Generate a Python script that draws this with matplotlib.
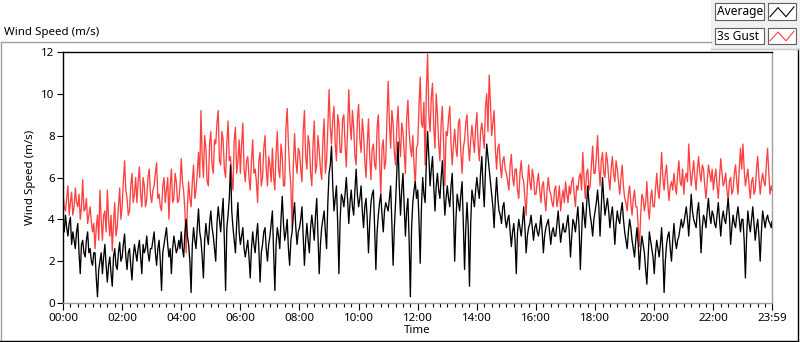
import matplotlib
matplotlib.use("Agg")
import matplotlib.pyplot as plt
from matplotlib.lines import Line2D
from matplotlib.patches import Rectangle
from matplotlib.ticker import FixedLocator, MultipleLocator

plt.rcParams['font.family'] = ['Noto Sans', 'DejaVu Sans']

# ---------------- data ----------------
# 3s gust, samples at hh:00, hh:05, ... (plus 23:59)
gust = [
    5.2, 4.4, 5.6, 4.8, 4.2, 5.5, 4.6, 4.0, 5.9, 4.5, 3.8, 4.6,   # 00h
    3.4, 2.6, 4.2, 5.4, 3.0, 4.4, 5.4, 3.2, 2.5, 4.8, 3.6, 5.5,   # 01h
    4.6, 6.8, 5.0, 4.4, 6.2, 5.2, 4.8, 6.5, 4.6, 5.6, 5.0, 6.4,   # 02h
    4.8, 5.6, 6.7, 5.2, 4.4, 6.0, 5.4, 4.0, 6.4, 5.0, 5.8, 4.9,   # 03h
    6.9, 5.3, 2.4, 5.8, 4.6, 6.6, 5.4, 7.2, 9.2, 6.0, 7.4, 5.6,   # 04h
    8.2, 6.2, 7.6, 9.2, 6.6, 7.8, 6.0, 8.7, 7.0, 5.4, 8.4, 6.8,   # 05h
    6.2, 8.6, 5.8, 7.0, 5.4, 7.8, 6.4, 4.8, 7.2, 6.0, 8.0, 5.6,   # 06h
    6.6, 7.4, 5.4, 8.2, 6.0, 7.0, 5.6, 9.3, 6.4, 3.6, 8.1, 6.2,   # 07h
    7.2, 5.8, 9.2, 6.4, 7.6, 5.6, 8.7, 6.6, 7.3, 5.9, 8.8, 6.8,   # 08h
    10.2, 7.6, 9.4, 6.8, 8.6, 7.2, 9.0, 6.5, 10.2, 7.8, 8.4, 6.6, # 09h
    9.5, 7.2, 8.1, 6.0, 8.8, 5.9, 7.6, 6.4, 9.0, 5.2, 7.8, 6.8,   # 10h
    10.6, 7.4, 8.6, 6.6, 9.4, 7.0, 8.2, 6.2, 9.7, 7.4, 8.0, 5.6,  # 11h
    7.6, 10.8, 8.4, 6.6, 11.9, 8.2, 10.5, 7.4, 9.0, 6.8, 9.4, 5.6, # 12h
    8.0, 9.4, 6.6, 8.3, 7.0, 8.8, 6.2, 7.8, 9.0, 6.8, 8.5, 7.2,   # 13h
    9.1, 6.8, 8.6, 7.4, 10.0, 10.9, 8.0, 9.2, 6.4, 7.6, 6.0, 7.0, # 14h
    6.2, 5.4, 7.1, 5.6, 6.4, 5.0, 6.8, 5.8, 4.2, 6.6, 5.4, 6.0,   # 15h
    5.2, 6.2, 4.8, 5.8, 4.4, 6.0, 5.2, 4.6, 5.6, 5.0, 4.4, 5.4,   # 16h
    5.8, 4.8, 5.2, 6.0, 4.6, 5.4, 6.2, 7.2, 5.0, 6.4, 5.6, 7.5,   # 17h
    6.2, 8.0, 5.6, 7.2, 6.0, 6.8, 5.4, 7.0, 5.8, 6.4, 5.2, 6.6,   # 18h
    5.0, 4.4, 5.6, 4.2, 5.4, 4.6, 2.7, 5.2, 4.4, 5.8, 4.0, 5.4,   # 19h
    4.6, 6.2, 5.0, 7.2, 5.4, 6.6, 4.9, 5.8, 6.2, 5.2, 6.8, 5.6,   # 20h
    5.2, 6.2, 7.6, 5.6, 6.8, 5.4, 7.0, 5.8, 6.4, 5.0, 6.6, 5.8,   # 21h
    5.4, 6.4, 5.0, 6.9, 5.6, 6.2, 4.9, 6.0, 5.4, 6.6, 5.2, 7.4,   # 22h
    7.6, 5.6, 6.4, 5.0, 6.0, 5.4, 7.0, 5.2, 6.2, 5.6, 7.4, 5.2,   # 23h
    5.4,                                                          # 23:59
]

# 3s gust, samples at hh:02.5, hh:07.5, ...
gust_mid = [
    4.6, 5.0, 4.2, 5.3, 4.6, 4.8, 5.2, 4.6, 4.4, 5.0, 4.2, 3.9,   # 00h
    3.8, 3.6, 3.0, 4.0, 4.2, 3.4, 4.0, 4.2, 3.8, 3.2, 4.6, 4.0,   # 01h
    5.8, 5.4, 4.2, 5.6, 4.8, 6.0, 5.8, 5.2, 6.0, 4.6, 6.0, 5.2,   # 02h
    5.4, 6.2, 5.0, 4.6, 5.6, 4.8, 6.0, 5.6, 4.8, 6.2, 4.8, 5.6,   # 03h
    5.8, 4.4, 4.6, 5.0, 5.8, 5.0, 6.2, 6.0, 7.0, 8.0, 5.8, 7.6,   # 04h
    6.6, 7.8, 8.6, 6.8, 8.2, 6.4, 7.6, 6.8, 6.0, 7.8, 6.2, 7.8,   # 05h
    7.6, 6.4, 6.8, 6.0, 6.8, 6.2, 5.8, 6.8, 5.6, 7.4, 6.4, 7.0,   # 06h
    5.8, 6.0, 7.2, 6.4, 7.6, 5.6, 8.4, 7.6, 5.6, 6.6, 6.8, 7.4,   # 07h
    6.4, 8.2, 7.0, 8.0, 6.2, 7.6, 6.2, 8.0, 6.4, 7.8, 6.2, 8.4,   # 08h
    8.4, 8.8, 7.6, 9.0, 7.2, 8.8, 7.6, 8.2, 8.6, 9.2, 7.0, 8.8,   # 09h
    7.8, 8.8, 6.8, 7.6, 7.0, 7.4, 6.6, 8.4, 6.8, 7.4, 6.4, 8.8,   # 10h
    8.6, 9.2, 7.2, 8.4, 7.8, 8.6, 7.2, 8.8, 8.2, 7.0, 6.6, 7.4,   # 11h
    9.4, 8.6, 9.6, 10.2, 9.0, 9.8, 8.4, 10.0, 7.6, 8.6, 7.6, 8.2, # 12h
    8.8, 7.6, 7.6, 7.4, 8.6, 7.2, 7.4, 8.6, 7.6, 7.8, 7.8, 8.4,   # 13h
    7.6, 8.2, 8.0, 9.4, 8.2, 9.6, 8.6, 7.4, 7.4, 6.6, 6.8, 6.4,   # 14h
    5.8, 6.6, 6.0, 6.4, 5.4, 6.2, 6.0, 5.0, 5.6, 5.8, 6.4, 5.2,   # 15h
    5.8, 5.4, 5.6, 5.0, 5.4, 5.4, 4.8, 5.4, 4.6, 5.6, 5.0, 4.8,   # 16h
    5.2, 5.6, 5.8, 5.2, 5.6, 6.0, 5.4, 6.0, 6.2, 5.4, 6.6, 6.2,   # 17h
    7.0, 6.6, 6.8, 6.2, 7.2, 6.0, 6.4, 6.2, 6.8, 5.8, 6.0, 5.6,   # 18h
    4.8, 5.2, 4.8, 5.0, 4.6, 3.6, 4.2, 5.0, 4.8, 4.6, 5.0, 4.6,   # 19h
    5.4, 5.4, 6.0, 6.0, 6.2, 5.6, 5.6, 5.4, 5.6, 6.2, 5.8, 6.4,   # 20h
    6.0, 5.8, 6.4, 6.2, 6.0, 6.4, 6.2, 6.6, 5.6, 5.8, 6.2, 6.4,   # 21h
    6.0, 5.6, 6.0, 6.2, 5.8, 5.4, 5.8, 5.2, 6.2, 5.8, 6.4, 6.4,   # 22h
    6.4, 6.0, 5.6, 5.8, 5.2, 6.4, 6.0, 5.8, 5.8, 6.6, 6.2, 5.6,   # 23h
]

# average, samples at hh:00, hh:05, ... (plus 23:59)
average = [
    3.8, 4.2, 3.2, 4.1, 3.4, 2.6, 3.8, 1.4, 3.0, 2.2, 3.4, 2.6,   # 00h
    1.8, 2.4, 0.3, 2.0, 1.4, 2.8, 1.0, 2.2, 0.8, 2.6, 1.6, 2.9,   # 01h
    2.2, 3.3, 1.6, 2.6, 1.1, 2.8, 2.0, 3.0, 1.4, 2.4, 3.2, 2.0,   # 02h
    2.6, 3.4, 1.8, 3.0, 0.6, 2.8, 3.6, 2.2, 1.4, 3.2, 2.4, 3.0,   # 03h
    3.4, 2.2, 4.0, 2.8, 0.5, 3.6, 2.6, 4.5, 3.0, 1.2, 3.8, 2.8,   # 04h
    4.4, 3.2, 2.0, 4.6, 3.4, 5.0, 0.6, 4.2, 6.6, 3.6, 2.4, 4.8,   # 05h
    2.8, 3.6, 2.2, 3.0, 1.2, 3.4, 2.4, 3.8, 1.0, 2.8, 3.6, 2.0,   # 06h
    3.2, 4.4, 0.6, 3.6, 2.6, 5.1, 3.0, 4.0, 1.8, 3.4, 4.8, 2.8,   # 07h
    3.6, 4.6, 1.8, 3.8, 2.4, 4.2, 3.0, 5.0, 1.4, 3.6, 4.4, 2.6,   # 08h
    6.2, 7.5, 4.4, 5.6, 1.4, 5.2, 4.6, 6.0, 3.8, 5.4, 4.2, 6.4,   # 09h
    4.6, 5.6, 3.6, 5.0, 2.4, 4.8, 5.4, 1.6, 4.2, 5.2, 3.4, 4.8,   # 10h
    4.4, 5.6, 1.8, 4.8, 7.7, 4.2, 6.2, 3.2, 5.0, 0.3, 4.8, 5.8,   # 11h
    5.4, 1.9, 6.0, 4.8, 8.2, 5.6, 7.0, 4.4, 6.2, 5.0, 6.8, 4.2,   # 12h
    5.6, 4.6, 6.2, 2.0, 5.2, 4.4, 5.8, 1.6, 4.8, 0.8, 5.4, 4.6,   # 13h
    6.0, 5.0, 7.0, 4.6, 7.6, 6.4, 5.2, 3.6, 6.0, 4.4, 3.8, 4.8,   # 14h
    3.6, 4.2, 2.7, 3.8, 1.4, 4.0, 3.2, 4.6, 2.4, 3.6, 4.2, 3.0,   # 15h
    3.8, 3.2, 4.2, 2.4, 3.6, 4.0, 2.8, 3.6, 3.2, 4.4, 2.9, 3.8,   # 16h
    3.4, 4.2, 2.2, 4.0, 3.4, 4.6, 1.6, 4.8, 3.6, 5.6, 4.2, 3.2,   # 17h
    4.4, 5.4, 3.2, 6.0, 4.2, 5.0, 3.6, 4.6, 2.8, 4.4, 3.8, 4.8,   # 18h
    3.4, 2.6, 4.0, 3.0, 2.2, 3.6, 1.6, 3.2, 2.4, 0.9, 3.4, 2.6,   # 19h
    1.4, 3.0, 2.2, 3.6, 0.5, 2.8, 3.4, 2.0, 3.8, 2.6, 3.2, 4.0,   # 20h
    3.8, 4.6, 3.2, 5.2, 4.0, 3.6, 4.8, 2.4, 4.2, 3.6, 5.0, 3.8,   # 21h
    4.2, 3.6, 4.8, 3.2, 4.4, 3.8, 5.0, 2.8, 4.2, 3.6, 4.6, 3.4,   # 22h
    4.0, 1.2, 4.4, 3.4, 4.6, 3.0, 4.0, 2.0, 4.4, 3.6, 4.2, 3.8,   # 23h
    3.9,                                                          # 23:59
]

# average, samples at hh:02.5, hh:07.5, ...
average_mid = [
    3.4, 3.6, 3.8, 2.8, 3.0, 3.4, 2.4, 2.8, 2.4, 3.0, 2.4, 2.0,   # 00h
    2.4, 1.2, 1.6, 2.4, 2.2, 1.8, 1.8, 1.4, 2.2, 1.8, 2.4, 2.0,   # 01h
    2.8, 2.2, 2.4, 1.8, 2.2, 2.4, 2.6, 2.2, 2.8, 2.6, 2.4, 2.6,   # 02h
    3.0, 2.4, 2.6, 2.0, 2.4, 3.2, 2.8, 2.6, 2.6, 2.8, 2.6, 2.6,   # 03h
    2.6, 3.4, 3.2, 2.0, 2.8, 3.0, 3.6, 3.4, 2.2, 3.0, 3.2, 3.8,   # 04h
    3.6, 2.6, 3.8, 4.0, 4.2, 3.0, 3.6, 5.0, 4.4, 3.0, 3.8, 3.4,   # 05h
    3.2, 2.6, 2.6, 2.2, 2.6, 2.8, 3.2, 2.6, 2.4, 3.4, 2.6, 2.8,   # 06h
    3.8, 2.4, 2.8, 3.2, 4.0, 3.8, 3.4, 2.6, 3.0, 4.2, 3.6, 3.4,   # 07h
    4.0, 3.2, 3.0, 3.0, 3.6, 3.6, 4.2, 3.2, 2.8, 4.0, 3.4, 4.8,   # 08h
    6.6, 5.6, 5.0, 3.8, 4.0, 5.0, 5.2, 5.0, 4.8, 4.6, 5.4, 5.2,   # 09h
    5.0, 4.4, 4.6, 4.0, 3.8, 5.2, 3.6, 3.4, 4.8, 4.2, 4.4, 4.6,   # 10h
    5.0, 3.8, 3.6, 6.2, 5.6, 5.4, 4.6, 4.4, 3.0, 3.6, 5.4, 5.0,   # 11h
    4.0, 4.6, 5.2, 6.8, 7.0, 6.4, 5.6, 5.6, 5.4, 6.0, 5.4, 5.0,   # 12h
    5.0, 5.6, 4.4, 4.0, 4.8, 5.2, 3.8, 3.6, 3.6, 3.8, 5.0, 5.4,   # 13h
    5.4, 6.2, 5.6, 6.4, 7.0, 5.8, 4.6, 5.0, 5.0, 4.2, 4.6, 4.0,   # 14h
    4.0, 3.4, 3.4, 3.0, 3.4, 3.6, 3.8, 3.6, 3.2, 3.8, 3.6, 3.6,   # 15h
    3.4, 3.6, 3.4, 3.2, 3.8, 3.4, 3.4, 3.2, 3.8, 3.6, 3.4, 3.4,   # 16h
    3.8, 3.4, 3.2, 3.8, 4.0, 3.6, 3.2, 4.2, 4.6, 4.8, 3.8, 4.0,   # 17h
    4.8, 4.6, 4.6, 5.0, 4.6, 4.4, 4.2, 3.8, 3.8, 4.0, 4.4, 4.0,   # 18h
    3.0, 3.4, 3.6, 2.6, 3.0, 2.8, 2.6, 2.8, 1.6, 2.2, 3.0, 2.2,   # 19h
    2.4, 2.6, 2.8, 2.4, 2.0, 3.2, 2.6, 3.0, 3.0, 3.0, 3.6, 3.6,   # 20h
    4.2, 4.0, 4.2, 4.4, 3.8, 4.4, 3.8, 3.6, 4.0, 4.4, 4.2, 4.4,   # 21h
    3.8, 4.2, 4.0, 4.0, 4.0, 4.4, 4.2, 3.6, 3.8, 4.2, 4.0, 4.0,   # 22h
    3.0, 3.2, 3.8, 4.0, 3.8, 3.6, 3.2, 3.4, 4.0, 4.0, 3.9, 3.6,   # 23h
]

sample_minutes = list(range(0, 1440, 5)) + [1439]
mid_minutes = [m + 2.5 for m in range(0, 1440, 5)]

tick_minutes = [0, 120, 240, 360, 480, 600, 720, 840, 960, 1080, 1200, 1320, 1439]
tick_labels = ["00:00", "02:00", "04:00", "06:00", "08:00", "10:00", "12:00",
               "14:00", "16:00", "18:00", "20:00", "22:00", "23:59"]
y_ticks = [0, 2, 4, 6, 8, 10, 12]

series_names = ["Average", "3s Gust"]
series_colors = ["#000000", "#ff4040"]


def merged(t_a, v_a, t_b, v_b):
    pairs = sorted(list(zip(t_a, v_a)) + list(zip(t_b, v_b)))
    return [p[0] for p in pairs], [p[1] for p in pairs]


t_gust, v_gust = merged(sample_minutes, gust, mid_minutes, gust_mid)
t_avg, v_avg = merged(sample_minutes, average, mid_minutes, average_mid)

# ---------------- figure ----------------
W, H = 800, 342
fig = plt.figure(figsize=(W / 100, H / 100), dpi=100)
fig.patch.set_facecolor("white")


def fx(px):
    return px / W


def fy(py):
    return 1 - py / H


ax = fig.add_axes([fx(63), fy(303), fx(772) - fx(63), fy(52) - fy(303)])
ax.set_facecolor("white")

ax.plot(t_gust, v_gust, color=series_colors[1], lw=0.95, zorder=2)
ax.plot(t_avg, v_avg, color=series_colors[0], lw=0.95, zorder=3)

ax.set_xlim(0, 1439)
ax.set_ylim(0, 12)

ax.xaxis.set_major_locator(FixedLocator(tick_minutes))
ax.set_xticklabels(tick_labels)
ax.xaxis.set_minor_locator(MultipleLocator(15))
ax.set_yticks(y_ticks)
ax.set_yticklabels([str(v) for v in y_ticks])

ax.tick_params(axis="x", which="major", length=5, width=0.8, color="black",
               labelsize=8.3, pad=2)
ax.tick_params(axis="x", which="minor", length=3, width=0.8, color="black")
ax.tick_params(axis="y", which="major", length=4, width=0.8, color="black",
               labelsize=8.3, pad=2)

for side in ("top", "left"):
    ax.spines[side].set_color("black")
    ax.spines[side].set_linewidth(1.0)
for side in ("bottom", "right"):
    ax.spines[side].set_color("#a0a0a0")
    ax.spines[side].set_linewidth(1.0)

ax.set_xlabel("Time", fontsize=8.3, labelpad=1)
ax.set_ylabel("Wind Speed (m/s)", fontsize=8.3, labelpad=4)

# title
fig.text(fx(4), fy(32), "Wind Speed (m/s)", fontsize=8.3, ha="left", va="center")

# outer frame
fig.add_artist(Line2D([fx(0.5), fx(711)], [fy(42), fy(42)], color="#a0a0a0", lw=1))
fig.add_artist(Line2D([fx(0.5), fx(0.5)], [fy(42), fy(340.5)], color="#a0a0a0", lw=1))
fig.add_artist(Line2D([fx(0), fx(797.5)], [fy(340.5), fy(340.5)], color="black", lw=1))
fig.add_artist(Line2D([fx(797.5), fx(797.5)], [fy(49), fy(340.5)], color="black", lw=1))

# legend panel
fig.add_artist(Rectangle((fx(711), fy(49)), fx(800) - fx(711), fy(0) - fy(49),
                         transform=fig.transFigure, facecolor="#f0f0f0",
                         edgecolor="none", zorder=0))
fig.add_artist(Line2D([fx(711), fx(800)], [fy(49), fy(49)], color="#c8c8c8", lw=1))

rows = [(3.5, 20), (28, 44)]
for (top, bot), name, col in zip(rows, series_names, series_colors):
    fig.add_artist(Rectangle((fx(715), fy(bot)), fx(764) - fx(715), fy(top) - fy(bot),
                             transform=fig.transFigure, facecolor="white",
                             edgecolor="#606060", lw=0.8))
    fig.text(fx(717), fy((top + bot) / 2), name, fontsize=8.6, ha="left", va="center")
    fig.add_artist(Rectangle((fx(768), fy(bot)), fx(796) - fx(768), fy(top) - fy(bot),
                             transform=fig.transFigure, facecolor="white",
                             edgecolor="#606060", lw=0.8))
    h = bot - top
    xs = [770, 778, 786, 794]
    ys = [bot - 0.2 * h, top + 0.25 * h, bot - 0.2 * h, top + 0.2 * h]
    fig.add_artist(Line2D([fx(v) for v in xs], [fy(v) for v in ys], color=col, lw=0.8))

fig.savefig("out.png", dpi=100, facecolor="white")
